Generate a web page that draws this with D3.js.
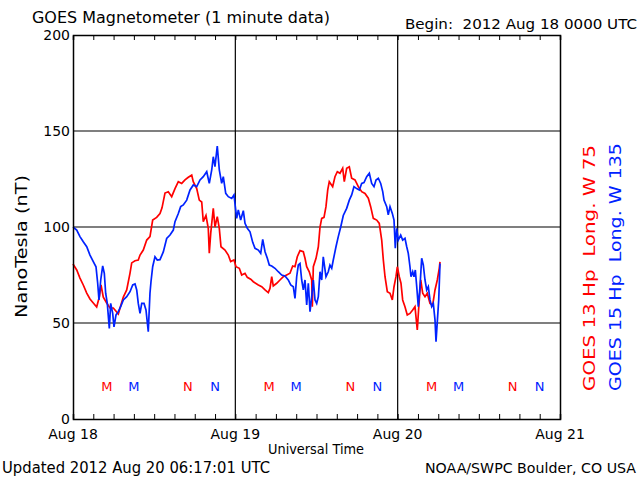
<!DOCTYPE html>
<html><head><meta charset="utf-8">
<script src="https://cdn.jsdelivr.net/npm/d3@7"></script>
<style>body{margin:0;background:#fff}svg{display:block}text{font-family:"DejaVu Sans",sans-serif;white-space:pre;}</style>
</head><body>
<script>
// hours since 2012 Aug 18 00:00 UTC
const g13Hours = [0,0.55,1.03,1.52,2.03,2.51,3.0,3.5,3.89,4.14,4.48,4.98,5.47,5.96,6.46,6.7,6.95,7.44,7.94,8.43,8.68,9.17,9.65,9.91,10.39,10.9,11.38,11.78,12.37,12.86,13.16,13.6,14.09,14.59,15.08,15.57,16.07,16.56,17.05,17.55,17.78,18.29,18.67,19.03,19.26,19.66,20.0,20.15,20.36,20.74,20.99,21.33,21.63,21.88,22.47,22.96,23.31,23.8,24.1,24.59,24.94,25.43,25.77,26.27,26.66,27.4,27.9,28.39,28.87,29.12,29.38,29.61,30.12,30.6,31.09,31.59,32.08,32.48,32.82,33.16,33.56,34.05,34.3,34.55,34.93,35.29,35.38,35.53,35.93,36.27,36.52,36.77,37.11,37.4,37.66,37.89,38.39,38.73,39.08,39.47,39.87,40.11,40.46,40.85,41.2,41.69,42.18,42.68,43.17,43.66,44.01,44.4,44.9,45.28,45.64,45.88,46.13,46.47,46.87,47.21,47.46,47.75,47.95,48.24,48.49,48.74,49.08,49.42,49.82,50.22,50.56,50.9,51.11,51.41,51.7,52.04,52.38,52.78,53.18,53.52,53.86,54.15,54.26];
const g13Values = [80.7,77.6,73.4,69.8,65.6,62.5,60.4,58.3,63.5,69.8,63.5,60.4,57.8,57.8,55.7,54.7,57.8,63.5,67.2,76,81.3,82.4,82.8,85.4,88,93.2,95,103.6,105,107,110,117.7,118.4,115.8,120,123.6,122.7,124.5,125.9,127,123.6,120,114,113,102.8,106,99.3,86.3,96.7,109.7,100,105.4,99.3,89.7,88,85.4,82,82.8,79.3,78.5,75,75.9,73.8,72.8,71.5,69.8,68.9,67.2,65.8,68,74.1,69.3,70.7,72.4,74.1,75,75.9,79.7,79.3,84.5,87.7,87.1,83.7,79.3,76.7,72.4,58.5,79.3,83.7,89.7,100,104.5,105,110.6,119.3,123.6,121,126.2,128.8,128,130.6,123.6,130.6,131.4,125.4,124.5,121,118.4,117.5,115,110.6,104.5,103.6,101.9,93.2,82.8,74.1,66.3,65.5,62,68.9,74.1,79.3,74.1,70.7,62,58.5,54.2,55,56.8,58.5,46.4,57.7,72.4,65.5,63.7,65.5,60.2,59.4,67.2,72.4,78.5,81.8];

const g15Hours = [0,0.55,1.03,1.52,2.03,2.51,3.0,3.4,3.65,3.84,4.1,4.39,4.63,4.83,5.07,5.37,5.57,5.87,6.06,6.36,6.7,7.05,7.44,7.94,8.43,8.83,9.17,9.42,9.65,9.91,10.16,10.5,10.79,11.13,11.38,11.53,11.78,12.12,12.46,12.86,13.35,13.85,14.34,14.83,15.08,15.57,15.92,16.31,16.81,17.3,17.79,18.29,18.78,19.26,19.77,20.15,20.51,20.74,20.99,21.33,21.63,21.98,22.22,22.58,22.96,23.46,23.8,24.0,24.2,24.44,24.79,25.18,25.43,25.77,26.17,26.57,26.91,27.4,27.75,28.05,28.39,28.73,29.02,29.38,29.86,30.35,30.85,31.34,31.83,32.19,32.57,32.82,33.07,33.31,33.56,33.81,34.05,34.3,34.55,34.79,35.04,35.29,35.53,35.78,36.03,36.27,36.52,36.77,37.0,37.4,37.74,37.99,38.25,38.48,38.88,39.22,39.58,39.96,40.46,40.85,41.2,41.54,41.94,42.33,42.68,43.02,43.42,43.81,44.16,44.5,44.8,45.14,45.49,45.79,45.98,46.38,46.61,46.87,47.21,47.46,47.65,47.85,48.09,48.45,48.74,49.08,49.34,49.57,49.82,49.97,50.22,50.41,50.61,50.82,51.05,51.3,51.55,51.79,52.04,52.29,52.53,52.78,53.03,53.27,53.52,53.67,53.86,54.07,54.26];
const g15Values = [100,98.4,95,92.3,89.7,85.4,82,79.3,70.7,62,72.4,79.7,75.9,65.5,60.2,47.2,60.2,55,48,54.2,55.9,58.5,62,63.7,66.3,69.8,70.3,67.2,60.2,55,60.2,60.2,56.8,45.5,65.5,71.5,79.3,84.5,82.8,83,87,94,95.8,98.4,102.8,107,110.6,111.5,114,119.3,121.9,121,124.5,126.2,128.8,122.7,129.7,136.6,131.4,142.2,129.7,122.7,126.2,117.5,115.8,114.9,116.7,110.6,104.5,108.9,103.6,108.5,101.9,99.3,97.5,92,88.9,88,86.3,93.6,87.1,83.7,80.2,79.7,78.5,76.7,75,74.5,72.4,69.8,68.9,62.8,74.1,80.2,81,72.4,67.2,72.4,59.4,70.7,55.9,63.7,72.4,62,60.2,63.7,76.7,72.4,84.5,74.1,76.7,80.2,78.5,82.8,89.7,95,100,106,109.7,114,116.7,121,120,119.3,122.7,123.1,126.2,128,122.7,121,124.5,125.4,122.7,118.4,114,110.6,106.3,110.6,107.1,103.6,88.9,99.3,93.2,95.8,93.2,94.1,89.7,86.3,79.3,74.1,76.7,74.1,77.6,68.9,58.5,68.9,83.7,80.2,72.4,67.2,68.9,62,58.5,60.2,51.6,40.3,50.7,62,81];

// local midnight (M) and noon (N) marks, hours UTC
const g13Midnight = [5,29,53], g13Noon = [17,41,65];
const g15Midnight = [9,33,57], g15Noon = [21,45,69];
const markLevel = 17;

const yTicks = [0,50,100,150,200];
const dayTicks = [0,24,48,72];
const dayLabels = ["Aug 18","Aug 19","Aug 20","Aug 21"];
const minorTicks = d3.range(0,73,3);

const W=640,H=480, L=73, R=560, T=35, B=419;
const RED="#ff0000", BLUE="#0022ff";
const svg=d3.select("body").append("svg").attr("width",W).attr("height",H);
const x=d3.scaleLinear().domain([0,72]).range([L,R]);
const y=d3.scaleLinear().domain([0,200]).range([B,T]);

// grid
const gr=svg.append("g").attr("stroke","#000").attr("stroke-width",1.2);
[50,100,150].forEach(v=>gr.append("line").attr("x1",L).attr("x2",R).attr("y1",y(v)).attr("y2",y(v)));
[24,48].forEach(v=>gr.append("line").attr("y1",T).attr("y2",B).attr("x1",x(v)).attr("x2",x(v)));

// data lines
const line=(hs)=>d3.line().x((d,i)=>x(hs[i])).y(d=>y(d));
svg.append("path").datum(g13Values).attr("d",line(g13Hours)).attr("fill","none").attr("stroke",RED).attr("stroke-width",1.7);
svg.append("path").datum(g15Values).attr("d",line(g15Hours)).attr("fill","none").attr("stroke",BLUE).attr("stroke-width",1.7);

// frame axes
const ax=svg.append("g");
ax.append("g").attr("transform",`translate(0,${B})`).call(d3.axisBottom(x).tickValues(minorTicks).tickSize(-5).tickFormat(""));
ax.append("g").attr("transform",`translate(0,${T})`).call(d3.axisTop(x).tickValues(minorTicks).tickSize(-5).tickFormat(""));
ax.append("g").attr("transform",`translate(${L},0)`).call(d3.axisLeft(y).tickValues(yTicks).tickSize(0).tickPadding(3));
ax.append("g").attr("transform",`translate(${R},0)`).call(d3.axisRight(y).tickValues([]).tickSize(0));
ax.selectAll(".domain").attr("stroke","#000").attr("stroke-width",1.5);
ax.selectAll(".tick line").attr("stroke","#000");
ax.selectAll("text").attr("font-size",14).attr("font-family","DejaVu Sans").attr("fill","#000");

svg.append("g").selectAll("text").data(dayTicks).join("text")
 .attr("x",d=>x(d)).attr("y",439).attr("text-anchor","middle").attr("font-size",14).text((d,i)=>dayLabels[i]);

// M/N markers
function marks(arr,letter,col){
  svg.append("g").selectAll("text").data(arr).join("text")
   .attr("x",d=>x(d)).attr("y",y(markLevel)+5).attr("text-anchor","middle")
   .attr("font-size",13).attr("fill",col).text(letter);
}
marks(g13Midnight,"M",RED); marks(g15Midnight,"M",BLUE);
marks(g13Noon,"N",RED); marks(g15Noon,"N",BLUE);

// texts
const t=(s,xx,yy,opt={})=>{const e=svg.append("text").attr("x",xx).attr("y",yy).attr("font-size",opt.fs||14)
  .attr("text-anchor",opt.anchor||"start").attr("fill",opt.fill||"#000").attr("xml:space","preserve").text(s);
  if(opt.len) e.attr("textLength",opt.len).attr("lengthAdjust","spacingAndGlyphs");
  if(opt.rot) e.attr("transform",`rotate(-90,${xx},${yy})`); return e;};
t("GOES Magnetometer (1 minute data)",32,23,{fs:15,len:298});
t("Begin:  2012 Aug 18 0000 UTC",405,29,{fs:14,len:232});
t("Universal Time",268,454,{fs:14,len:96});
t("Updated 2012 Aug 20 06:17:01 UTC",2,473,{fs:15,len:268});
t("NOAA/SWPC Boulder, CO USA",425,473,{fs:14,len:211});
t("NanoTesla (nT)",27,318,{fs:16,rot:true,len:143});
t("GOES 13 Hp  Long. W 75",595,391,{fs:15,rot:true,fill:RED,len:246});
t("GOES 15 Hp  Long. W 135",621,391,{fs:15,rot:true,fill:BLUE,len:248});
</script>
</body></html>
